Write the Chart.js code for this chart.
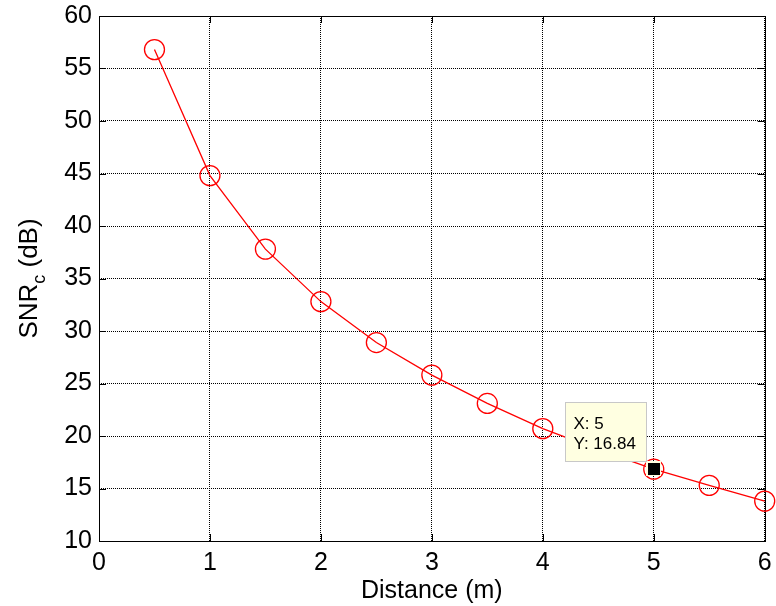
<!DOCTYPE html>
<html>
<head>
<meta charset="utf-8">
<title>SNR vs distance</title>
<script src="https://cdn.jsdelivr.net/npm/chart.js@4.4.1/dist/chart.umd.min.js"></script>
<style>
  html,body{margin:0;padding:0;background:#fff;}
  #wrap{width:776px;height:606px;}
</style>
</head>
<body>
<div id="wrap"><canvas id="snrChart" width="776" height="606"></canvas></div>
<script>
// SNR_c against distance, with a data tip on one sample
const distances = [0.5, 1, 1.5, 2, 2.5, 3, 3.5, 4, 4.5, 5, 5.5, 6];
const snrValues = [56.8, 44.8, 37.8, 32.8, 28.9, 25.8, 23.1, 20.7, 18.7, 16.84, 15.3, 13.8];
const xTicks = [0, 1, 2, 3, 4, 5, 6];
const yTicks = [10, 15, 20, 25, 30, 35, 40, 45, 50, 55, 60];
const tipIndex = 9; // data tip sits on d = 5

const FONT = '"Liberation Sans", Arial, Helvetica, sans-serif';
const RED = '#ff0000';
const TICK_LEN = 7;

// axes box with inward ticks on all four sides
const frame = {
  id: 'frame',
  beforeDatasetsDraw(chart){
    const {ctx, chartArea: a, scales: {x, y}} = chart;
    ctx.save();
    ctx.strokeStyle = '#000'; ctx.lineWidth = 1;
    ctx.beginPath();
    xTicks.forEach(v=>{
      const px = Math.round(x.getPixelForValue(v)) + 0.5;
      ctx.moveTo(px, a.bottom); ctx.lineTo(px, a.bottom - TICK_LEN);
      ctx.moveTo(px, a.top); ctx.lineTo(px, a.top + TICK_LEN);
    });
    yTicks.forEach(v=>{
      const py = Math.round(y.getPixelForValue(v)) + 0.5;
      ctx.moveTo(a.left, py); ctx.lineTo(a.left + TICK_LEN, py);
      ctx.moveTo(a.right, py); ctx.lineTo(a.right - TICK_LEN, py);
    });
    ctx.stroke();
    ctx.strokeRect(Math.round(a.left) + 0.5, Math.round(a.top) + 0.5, Math.round(a.right - a.left), Math.round(a.bottom - a.top));
    ctx.restore();
  }
};

// y title with a subscript, drawn by hand since the axis title can't do it
const yTitle = {
  id: 'yTitle',
  afterDraw(chart){
    const {ctx, chartArea: a} = chart;
    const big = '26px ' + FONT, small = '18px ' + FONT;
    const parts = [['SNR', big, 0], ['c', small, 8], [' (dB)', big, 0]];
    ctx.save();
    let total = 0;
    parts.forEach(p=>{ ctx.font = p[1]; p.push(ctx.measureText(p[0]).width); total += p[3]; });
    ctx.translate(37, (a.top + a.bottom) / 2);
    ctx.rotate(-Math.PI / 2);
    ctx.fillStyle = '#000'; ctx.textBaseline = 'alphabetic'; ctx.textAlign = 'left';
    let cx = -total / 2;
    parts.forEach(p=>{ ctx.font = p[1]; ctx.fillText(p[0], cx, p[2]); cx += p[3]; });
    ctx.restore();
  }
};

// data tip: yellow box with X/Y readout and a black square on the point
const dataTip = {
  id: 'dataTip',
  afterDatasetsDraw(chart){
    const {ctx, scales: {x, y}} = chart;
    const px = Math.round(x.getPixelForValue(distances[tipIndex]));
    const py = Math.round(y.getPixelForValue(snrValues[tipIndex]));
    ctx.save();
    ctx.fillStyle = '#ffffe1'; ctx.fillRect(px - 8, py - 8, 15, 15);
    ctx.fillStyle = '#000'; ctx.fillRect(px - 6, py - 6, 12, 12);
    const bx = px - 89 + 0.5, by = py - 67 + 0.5, bw = 81, bh = 59;
    ctx.fillStyle = '#ffffe1'; ctx.fillRect(bx, by, bw, bh);
    ctx.strokeStyle = '#c8c8c8'; ctx.lineWidth = 1; ctx.strokeRect(bx, by, bw, bh);
    ctx.fillStyle = '#000'; ctx.font = '17px ' + FONT; ctx.textBaseline = 'alphabetic';
    ctx.fillText('X: ' + distances[tipIndex], bx + 8, by + 26);
    ctx.fillText('Y: ' + snrValues[tipIndex].toFixed(2), bx + 8, by + 46);
    ctx.restore();
  }
};

const points = distances.map((d, i)=>({x: d, y: snrValues[i]}));

new Chart(document.getElementById('snrChart').getContext('2d'), {
  type: 'line',
  data: { datasets: [{
    data: points,
    borderColor: RED, borderWidth: 1.3, tension: 0,
    pointStyle: 'circle', pointRadius: 10, pointBorderWidth: 1.3,
    pointBorderColor: RED, pointBackgroundColor: 'rgba(0,0,0,0)',
    clip: false
  }]},
  options: {
    responsive: false, animation: false,
    layout: { padding: { left: 0, right: 10, top: 16, bottom: 0 } },
    plugins: { legend: {display: false}, tooltip: {enabled: false} },
    scales: {
      x: {
        type: 'linear', min: 0, max: 6,
        afterBuildTicks: s=>{ s.ticks = xTicks.map(v=>({value: v})); },
        afterFit: s=>{ s.height = 65; s.paddingLeft = 0; s.paddingRight = 0; },
        grid: { color: '#000', lineWidth: 1, drawTicks: false },
        border: { display: false, dash: [1, 1] },
        ticks: { color: '#000', padding: 7, font: {family: FONT, size: 25} },
        title: { display: true, text: 'Distance (m)', color: '#000', padding: {top: 0, bottom: 0}, font: {family: FONT, size: 25} }
      },
      y: {
        type: 'linear', min: 10, max: 60,
        afterBuildTicks: s=>{ s.ticks = yTicks.map(v=>({value: v})); },
        afterFit: s=>{ s.width = 99; s.paddingTop = 0; s.paddingBottom = 0; },
        grid: { color: '#000', lineWidth: 1, drawTicks: false },
        border: { display: false, dash: [1, 1] },
        ticks: { color: '#000', padding: 7, font: {family: FONT, size: 25} }
      }
    }
  },
  plugins: [frame, dataTip, yTitle]
});
</script>
</body>
</html>
